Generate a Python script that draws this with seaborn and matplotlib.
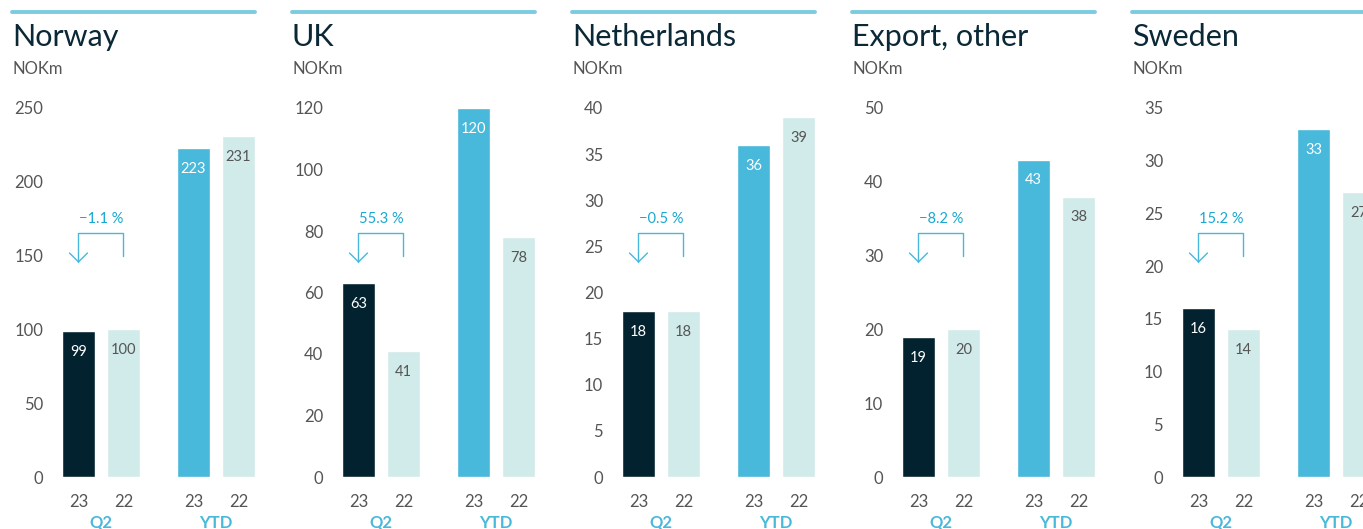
import pandas as pd
import numpy as np
import matplotlib.pyplot as plt
import seaborn as sns
from matplotlib.lines import Line2D

# data
countries = ['Norway', 'UK', 'Netherlands', 'Export, other', 'Sweden']
q2_23 = [99, 63, 18, 19, 16]
q2_22 = [100, 41, 18, 20, 14]
ytd_23 = [223, 120, 36, 43, 33]
ytd_22 = [231, 78, 39, 38, 27]
q2_change = [-1.1, 55.3, -0.5, -8.2, 15.2]
y_max = [250, 120, 40, 50, 35]
y_step = [50, 20, 5, 10, 5]
bar_keys = ['Q2 23', 'Q2 22', 'YTD 23', 'YTD 22']
year_labels = ['23', '22', '23', '22']
group_labels = ['Q2', 'YTD']

DARK = '#03222f'
BLUE = '#48b8db'
LIGHT = '#d1eaea'
GREY = '#555555'
PCT = '#19a8cf'
LINE = '#7ccbe0'

palette = {'Q2 23': DARK, 'Q2 22': LIGHT, 'YTD 23': BLUE, 'YTD 22': LIGHT}
label_colors = {'Q2 23': 'white', 'Q2 22': GREY, 'YTD 23': 'white', 'YTD 22': GREY}

sns.set_theme(style='white')
plt.rcParams['font.family'] = ['Lato', 'DejaVu Sans']

W, H = 1363, 529
fig = plt.figure(figsize=(W / 100, H / 100), dpi=100)

# bar centres in units of 45 px
positions = [0, 1, 2.556, 3.556]


def fmt_pct(v):
    s = f"{abs(v):.1f} %"
    return ('\u2212' + s) if v < 0 else s


def draw_panel(i):
    px = 12 + 280 * i
    left = px + 38
    width = 212
    bottom = H - 477
    height = 369
    ax = fig.add_axes([left / W, bottom / H, width / W, height / H])

    df = pd.DataFrame({
        'pos': positions,
        'value': [q2_23[i], q2_22[i], ytd_23[i], ytd_22[i]],
        'key': bar_keys,
    })
    sns.barplot(data=df, x='pos', y='value', hue='key', palette=palette,
                native_scale=True, width=0.733, dodge=False, legend=False,
                saturation=1, errorbar=None, ax=ax)

    ax.set_xlim(-0.633, 4.078)
    ax.set_ylim(0, y_max[i])
    ax.set_yticks(np.arange(0, y_max[i] + 1, y_step[i]))
    ax.set_xticks(positions)
    ax.set_xticklabels(year_labels)
    ax.tick_params(axis='both', length=0, colors=GREY, labelsize=12)
    ax.tick_params(axis='y', pad=5)
    ax.tick_params(axis='x', pad=12)
    ax.set_xlabel('')
    ax.set_ylabel('')
    sns.despine(ax=ax, left=True, bottom=True)

    # value labels inside bars
    for x, v, k in zip(df['pos'], df['value'], df['key']):
        ax.annotate(str(v), (x, v), xytext=(0, -15), textcoords='offset points',
                    ha='center', va='center', fontsize=10.5, color=label_colors[k])

    tr = ax.get_xaxis_transform()
    # group labels
    ax.text((positions[0] + positions[1]) / 2, -0.124, group_labels[0], transform=tr,
            ha='center', va='center', fontsize=12, fontweight='bold', color=BLUE)
    ax.text((positions[2] + positions[3]) / 2, -0.124, group_labels[1], transform=tr,
            ha='center', va='center', fontsize=12, fontweight='bold', color=BLUE)

    # change bracket
    x0, x1 = positions[0], positions[1]
    top, tip, rend = 0.661, 0.583, 0.599
    ax.plot([x0, x0, x1, x1], [tip, top, top, rend], transform=tr, color=BLUE, lw=1, clip_on=False)
    ax.plot([x0 - 0.2, x0, x0 + 0.2], [tip + 0.024, tip, tip + 0.024], transform=tr,
            color=BLUE, lw=1, clip_on=False)
    ax.text((x0 + x1) / 2, 0.698, fmt_pct(q2_change[i]), transform=tr,
            ha='center', va='center', fontsize=10.5, color=PCT)

    # header
    fig.add_artist(Line2D([px / W, (px + 243) / W], [1 - 12 / H, 1 - 12 / H],
                          color=LINE, lw=2.8, transform=fig.transFigure))
    fig.text(px / W, 1 - 37 / H, countries[i], ha='left', va='center',
             fontsize=22, color='#0b2836')
    fig.text(px / W, 1 - 69 / H, 'NOKm', ha='left', va='center',
             fontsize=12, color=GREY)


for i in range(len(countries)):
    draw_panel(i)

fig.savefig('out.png', dpi=100, facecolor='white')
